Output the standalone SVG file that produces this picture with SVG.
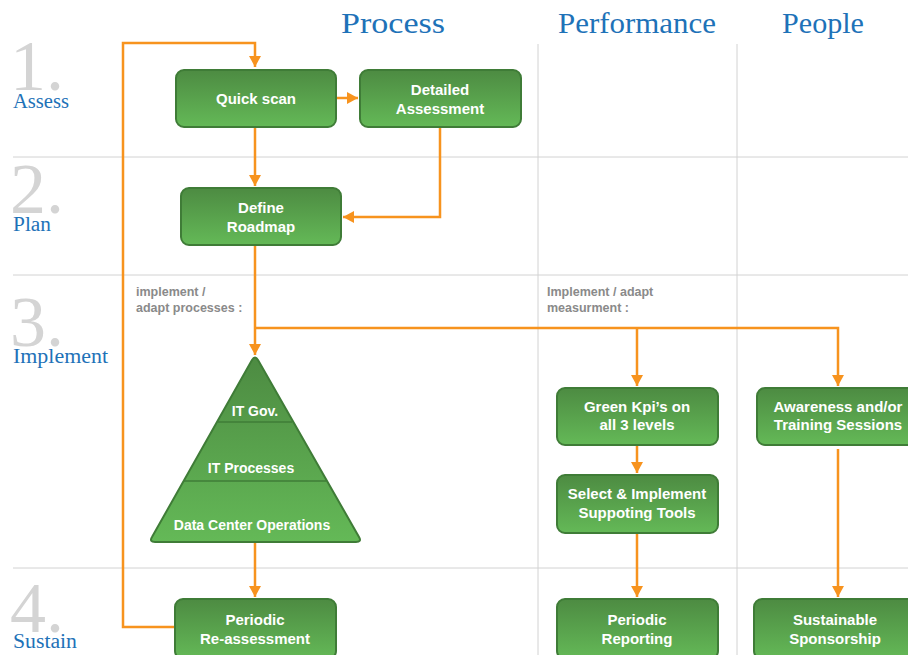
<svg xmlns="http://www.w3.org/2000/svg" width="908" height="655" viewBox="0 0 908 655">
<defs>
<linearGradient id="g" x1="0" y1="0" x2="0" y2="1">
<stop offset="0" stop-color="#4d8b42"/>
<stop offset="1" stop-color="#64b957"/>
</linearGradient>
<marker id="arr" viewBox="0 0 12 12" refX="11" refY="6" markerWidth="12" markerHeight="12" markerUnits="userSpaceOnUse" orient="auto">
<path d="M0,0 L11,6 L0,12 Z" fill="#f7931e"/>
</marker>
<style>
.grid{stroke:#d2d2d2;stroke-width:1;fill:none}
.hdr{font-family:"Liberation Serif",serif;font-size:30px;fill:#1e72b8}
.num{font-family:"Liberation Serif",serif;font-size:72px;fill:#d4d4d4}
.stage{font-family:"Liberation Serif",serif;font-size:20px;fill:#1e72b8}
.box{fill:url(#g);stroke:#3f7c37;stroke-width:2}
.t{font-family:"Liberation Sans",Arial,sans-serif;font-size:15px;font-weight:bold;fill:#ffffff;text-anchor:middle}
.tp{font-family:"Liberation Sans",Arial,sans-serif;font-size:14px;font-weight:bold;fill:#ffffff;text-anchor:middle}
.note{font-family:"Liberation Sans",Arial,sans-serif;font-size:12.5px;font-weight:bold;fill:#8a8a8a}
.c{fill:none;stroke:#f7931e;stroke-width:2.5;marker-end:url(#arr)}
.div{stroke:#3f7c37;stroke-width:1.5}
</style>
</defs>
<rect width="908" height="655" fill="#ffffff"/>
<g id="grid">
<line class="grid" x1="13" y1="157" x2="908" y2="157"/>
<line class="grid" x1="13" y1="275" x2="908" y2="275"/>
<line class="grid" x1="13" y1="568" x2="908" y2="568"/>
<line class="grid" x1="538" y1="44" x2="538" y2="655"/>
<line class="grid" x1="737" y1="44" x2="737" y2="655"/>
</g>
<g id="headers">
<text class="hdr" x="341" y="33" textLength="104" lengthAdjust="spacingAndGlyphs">Process</text>
<text class="hdr" x="558" y="33" textLength="158" lengthAdjust="spacingAndGlyphs">Performance</text>
<text class="hdr" x="782" y="33" textLength="82" lengthAdjust="spacingAndGlyphs">People</text>
</g>
<g id="stages">
<text class="num" x="10" y="90">1.</text>
<text class="stage" x="13" y="108" textLength="56" lengthAdjust="spacingAndGlyphs">Assess</text>
<text class="num" x="10" y="213">2.</text>
<text class="stage" x="13" y="231" textLength="38" lengthAdjust="spacingAndGlyphs">Plan</text>
<text class="num" x="10" y="346">3.</text>
<text class="stage" x="13" y="363" textLength="95" lengthAdjust="spacingAndGlyphs">Implement</text>
<text class="num" x="10" y="632">4.</text>
<text class="stage" x="13" y="648" textLength="64" lengthAdjust="spacingAndGlyphs">Sustain</text>
</g>
<g id="notes">
<text class="note" x="136" y="296">implement /</text>
<text class="note" x="136" y="312">adapt processes :</text>
<text class="note" x="547" y="296">Implement / adapt</text>
<text class="note" x="547" y="312">measurment :</text>
</g>
<g id="connectors">
<path class="c" d="M176,627 H123 V43 H255 V67"/>
<path class="c" d="M337,98 H358"/>
<path class="c" d="M255,128 V186"/>
<path class="c" d="M440,128 V217 H343"/>
<path class="c" d="M255,246 V355"/>
<path class="c" d="M255,328 H838 V386"/>
<path class="c" d="M637,328 V386"/>
<path class="c" d="M255,543 V597"/>
<path class="c" d="M637,446 V473"/>
<path class="c" d="M637,534 V597"/>
<path class="c" d="M838,449 V597"/>
</g>
<g id="quick-scan">
<rect class="box" x="176" y="70" width="160" height="57" rx="8"/>
<text class="t" x="256" y="104">Quick scan</text>
</g>
<g id="detailed-assessment">
<rect class="box" x="360" y="70" width="161" height="57" rx="8"/>
<text class="t" x="440" y="95">Detailed</text>
<text class="t" x="440" y="114">Assessment</text>
</g>
<g id="define-roadmap">
<rect class="box" x="181" y="188" width="160" height="57" rx="8"/>
<text class="t" x="261" y="213">Define</text>
<text class="t" x="261" y="232">Roadmap</text>
</g>
<g id="pyramid">
<path class="box" d="M252,360 Q255,355 258,360 L359,537 Q362,542 356,542 L155,542 Q149,542 152,537 Z"/>
<line class="div" x1="218" y1="422" x2="292" y2="422"/>
<line class="div" x1="184" y1="481" x2="326" y2="481"/>
<text class="tp" x="255" y="416">IT Gov.</text>
<text class="tp" x="251" y="473">IT Processes</text>
<text class="tp" x="252" y="530">Data Center Operations</text>
</g>
<g id="periodic-reassessment">
<rect class="box" x="175" y="599" width="161" height="60" rx="8"/>
<text class="t" x="255" y="625">Periodic</text>
<text class="t" x="255" y="644">Re-assessment</text>
</g>
<g id="green-kpis">
<rect class="box" x="557" y="388" width="161" height="57" rx="8"/>
<text class="t" x="637" y="412">Green Kpi’s on</text>
<text class="t" x="637" y="430">all 3 levels</text>
</g>
<g id="select-implement">
<rect class="box" x="557" y="475" width="161" height="58" rx="8"/>
<text class="t" x="637" y="499">Select &amp; Implement</text>
<text class="t" x="637" y="518">Suppoting Tools</text>
</g>
<g id="periodic-reporting">
<rect class="box" x="557" y="599" width="161" height="60" rx="8"/>
<text class="t" x="637" y="625">Periodic</text>
<text class="t" x="637" y="644">Reporting</text>
</g>
<g id="awareness">
<rect class="box" x="757" y="388" width="162" height="57" rx="8"/>
<text class="t" x="838" y="412">Awareness and/or</text>
<text class="t" x="838" y="430">Training Sessions</text>
</g>
<g id="sustainable-sponsorship">
<rect class="box" x="754" y="599" width="162" height="60" rx="8"/>
<text class="t" x="835" y="625">Sustainable</text>
<text class="t" x="835" y="644">Sponsorship</text>
</g>
</svg>
